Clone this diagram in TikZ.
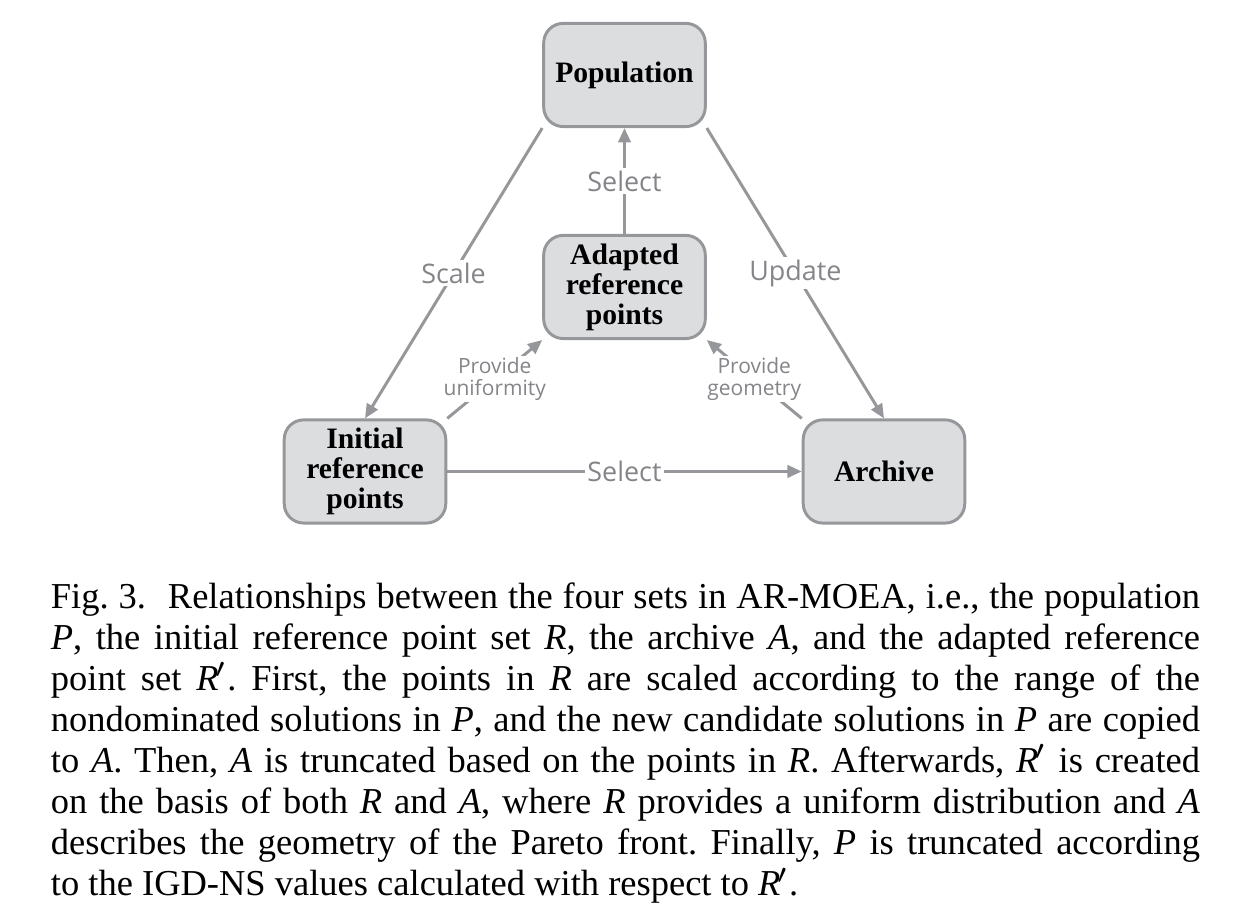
\documentclass[tikz,border=0pt]{standalone}
\usepackage{fontspec}
\setmainfont{Liberation Serif}
\newfontfamily\labelfont{Open Sans}
\usetikzlibrary{arrows.meta,positioning}
\definecolor{boxfill}{RGB}{220,221,223}
\definecolor{boxline}{RGB}{150,151,154}
\definecolor{linkgray}{RGB}{150,151,155}
\definecolor{labelgray}{RGB}{132,133,137}
\newcommand{\rprime}{\textit{R}\kern-0.8pt$'$}

\begin{document}
\begin{tikzpicture}[
    x=0.0077cm, y=-0.0077cm,
    setbox/.style={rectangle, draw=boxline, fill=boxfill, line width=0.65pt, rounded corners=0.15cm, align=center, minimum width=1.245cm, minimum height=0.795cm, inner sep=0pt, font=\fontsize{6.5}{6.6}\selectfont\bfseries},
    link/.style={-{Triangle[length=1.1mm,width=0.95mm]}, line width=0.65pt, draw=linkgray},
    biglabel/.style={fill=white, inner sep=0.6pt, text=labelgray, font=\labelfont\fontsize{5.9}{6}\selectfont},
    smalllabel/.style={fill=white, inner sep=0.3pt, align=center, text=labelgray, font=\labelfont\fontsize{4.6}{4.9}\selectfont}
]
    \useasboundingbox (0,0) rectangle (1248,908);

    % the four sets
    \node [setbox] (pop) at (624.5,75) {Population};
    \node [setbox] (ada) at (624.5,287) {Adapted\\reference\\points};
    \node [setbox] (ini) at (365,471.5) {Initial\\reference\\points};
    \node [setbox] (arc) at (884,471.5) {Archive};

    % relationships
    \draw [link] (pop.south west) -- node [biglabel] {Scale} (ini.north);
    \draw [link] (pop.south east) -- node [biglabel] {Update} (arc.north);
    \draw [link] (ada) -- node [biglabel] {Select} (pop);
    \draw [link] (ini) -- node [biglabel] {Select} (arc);
    \draw [link] (ini.north east) -- node [smalllabel] {Provide\\uniformity} (ada.south west);
    \draw [link] (arc.north west) -- node [smalllabel] {Provide\\geometry} (ada.south east);

    % caption
    \node [anchor=north west, text width=8.855cm, align=justify, inner sep=0pt, font=\fontsize{8}{9}\selectfont\frenchspacing] (cap) at (50,582) {Fig.~3.\hspace{0.6em}Relationships between the four sets in AR-MOEA, i.e.,\ the population\linebreak
    \textit{P}, the initial reference point set \textit{R}, the archive \textit{A}, and the adapted reference\linebreak
    point set \rprime. First, the points in \textit{R} are scaled according to the range of the\linebreak
    nondominated solutions in \textit{P}, and the new candidate solutions in \textit{P} are copied\linebreak
    to \textit{A}. Then, \textit{A} is truncated based on the points in \textit{R}. Afterwards, \rprime{} is created\linebreak
    on the basis of both \textit{R} and \textit{A}, where \textit{R} provides a uniform distribution and \textit{A}\linebreak
    describes the geometry of the Pareto front. Finally, \textit{P} is truncated according\linebreak
    to the IGD-NS values calculated with respect to \rprime.};
\end{tikzpicture}
\end{document}
